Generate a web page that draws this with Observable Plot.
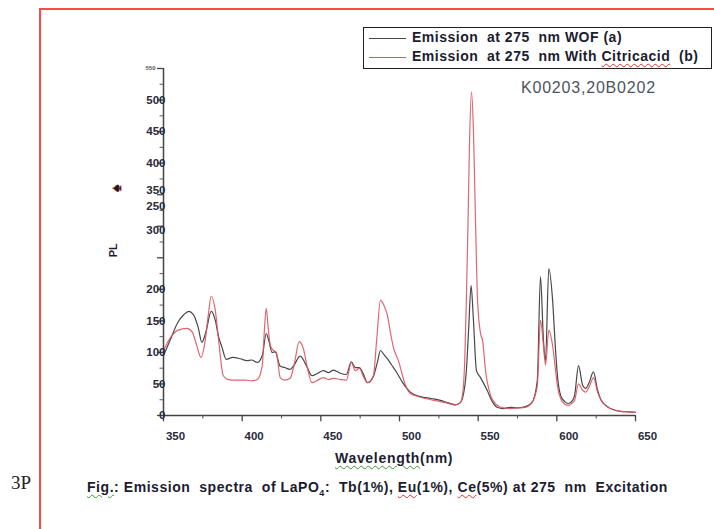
<!DOCTYPE html>
<html>
<head>
<meta charset="utf-8">
<script src="https://cdn.jsdelivr.net/npm/d3@7"></script>
<script src="https://cdn.jsdelivr.net/npm/@observablehq/plot@0.6"></script>
<style>
  html, body { margin: 0; padding: 0; background: #fff; }
  #wrap { position: relative; width: 714px; height: 529px; overflow: hidden; font-family: "Liberation Sans", Arial, sans-serif; }
  #chart { position: absolute; left: 0; top: 0; }
  .abs { position: absolute; white-space: pre; }
  .wavyG { text-decoration: underline wavy #3a9a3a; text-decoration-thickness: 1px; text-underline-offset: 2px; }
  .wavyR { text-decoration: underline wavy #e03030; text-decoration-thickness: 1px; text-underline-offset: 2px; }
</style>
</head>
<body>
<div id="wrap">
  <div id="chart"></div>
  <div class="abs" style="left:39px;top:8px;width:2px;height:521px;background:#ff4848;"></div>
  <div class="abs" style="left:39px;top:8px;width:675px;height:2px;background:#ff4848;"></div>
  <div id="legend" class="abs" style="left:363px;top:27px;width:347px;height:40px;border:1.5px solid #222;"></div>
  <div id="stamp" class="abs" style="left:521px;top:79px;font-size:16px;letter-spacing:0.8px;color:#4d5360;"></div>
  <div id="xtitle" class="abs" style="left:335px;top:450px;font-size:14px;letter-spacing:0.7px;font-weight:bold;color:#1c1c30;"></div>
  <div id="page" class="abs" style="left:11px;top:472px;font-family:'Liberation Serif',serif;font-size:19px;color:#222;">3P</div>
  <div id="caption" class="abs" style="left:87px;top:479px;font-size:14px;letter-spacing:0.55px;font-weight:bold;color:#1c1c30;"></div>
</div>
<script>
// ---- data ----
const wofWavelength = [350,354,359,363,366,369,372,374.4,377,380.3,383,385,387.2,389.9,394,398.8,403,406,409.6,412.8,415.3,417,419,421,424.2,427,430.5,433,436.9,440.8,444.4,448,451.6,455,458,462.4,466.2,469.4,471.9,474.5,477,479.6,483.4,486,487.9,490,492.3,495,498.5,502,506.9,513.3,520,526,531,535.5,538.5,540,542.5,544,545.5,547,548.9,551.5,555.7,559,562,566,570.5,575,580,583,585,587.6,589.6,591.5,592.8,594.9,597.3,599.2,600.5,602.4,605,607.4,610,611.3,613.8,616.4,618.3,620.5,623.3,625.9,628,631,637.4,643,650];
const wofPL = [95,118,147,160,165,160,140,116,133,165,150,125,108,89,92,90,87,88,84,95,130,118,100,101,78,76,73,80,94,79,63,67,71,68,72,67,65,85,76,76,66,52,62,85,103,97,90,80,67,52,37,30,27,24,20,17,20,27,71,140,206,151,71,60,40,22,13,11,13,12,14,18,24,56,220,119,87,233,183,103,60,32,22,19,24,32,79,48,43,52,69,40,25,16,8,6,5];

const citWavelength = [350,354,359,364.9,368.3,371,373.8,376.5,378.5,380.3,382.9,385,388,391.2,396,402,406,409.6,412.8,414,415.3,416.5,417.9,419.5,421.7,424.2,427,430.5,433,436.3,438.9,441.5,444.4,448,451.6,455,458,462.4,466.2,469.4,471.9,474.5,477,479.6,483.4,485.5,487.9,490,492.3,494,496.1,499.3,503.8,506.9,513.3,520,526,531,535.5,538.5,540,541.5,542.5,543.5,544.4,545.7,547,548.3,549.6,551.5,552.8,554.7,557.9,561.7,566,570.5,575,580,583,585,587.6,589.6,591.5,592.8,594.9,597.3,599.2,600.5,602.4,605,607.4,610,611.3,613.8,616.4,618.3,620.5,623.3,625.9,628,631,637.4,643,650];
const citPL = [103,122,135,138,132,112,92,119,160,189,167,120,63,57,56,56,55,57,79,130,170,140,111,104,100,60,56,59,80,117,106,75,52,56,60,57,59,57,56,84,71,75,62,52,63,120,183,175,159,135,108,87,48,35,29,25,22,19,17,20,32,90,183,300,421,513,452,310,183,130,119,71,32,17,12,11,12,13,17,24,48,151,111,80,135,111,71,45,27,18,16,20,24,50,40,37,45,60,37,25,16,8,6,5];

const xMajor = [350,400,450,500,550,600,650];
const xMinor = [375,425,475,525,575,625];
const yMajor = [0,50,100,150,200,250,300,350,400,450,500,550];
const yMinor = [25,75,125,175,225,275,325,375,425,475,525];
const yLabelText = ["0","50","100","150","200","300","250","350","400","450","500"];
const yLabelAt   = [0,50,100,150,200,294,332,357,400,450,500];
const yTopLabel = "550";
const yTitle = "PL";
const xTitle = "Wavelength(nm)";
const legendLabels = ["Emission  at 275  nm WOF (a)", "Emission  at 275  nm With Citricacid  (b)"];
const seriesColors = ["#474747", "#dc5560"];
const stampText = "K00203,20B0202";

// ---- chart ----
const wof = wofWavelength.map((w, i) => ({w, v: wofPL[i]}));
const cit = citWavelength.map((w, i) => ({w, v: citPL[i]}));

const chart = Plot.plot({
  width: 714,
  height: 529,
  marginLeft: 163,
  marginRight: 79,
  marginTop: 68,
  marginBottom: 114,
  style: {background: "transparent", fontFamily: "'Liberation Sans', Arial, sans-serif"},
  x: {domain: [350, 650], axis: null},
  y: {domain: [0, 550], axis: null},
  marks: [
    Plot.line(wof, {x: "w", y: "v", stroke: seriesColors[0], strokeWidth: 1.2, curve: "monotone-x"}),
    Plot.line(cit, {x: "w", y: "v", stroke: seriesColors[1], strokeWidth: 1.2, strokeOpacity: 0.9, curve: "monotone-x"}),
    // axes lines
    Plot.ruleY([0], {x1: 350, x2: 650, stroke: "#444", strokeWidth: 1.5}),
    Plot.ruleX([350], {y1: 0, y2: 550, stroke: "#444", strokeWidth: 1.5}),
    // x ticks
    Plot.ruleX(xMajor, {x: d => d, y1: 0, y2: -10, stroke: "#444", strokeWidth: 1.3}),
    Plot.ruleX(xMinor, {x: d => d, y1: 0, y2: -5.5, stroke: "#555", strokeWidth: 1.1}),
    Plot.text(xMajor, {x: d => d, y: 0, text: d => String(d), dy: 21, dx: 12, fontSize: 11.5, fontWeight: "bold", fill: "#2a2a3a"}),
    // y ticks
    Plot.ruleY(yMajor, {y: d => d, x1: 350, x2: 346.2, stroke: "#444", strokeWidth: 1.3}),
    Plot.ruleY(yMinor, {y: d => d, x1: 350, x2: 347.8, stroke: "#666", strokeWidth: 1.1}),
    Plot.text(yLabelAt, {x: 350, y: d => d, text: (d, i) => yLabelText[i], textAnchor: "end", dx: 2, fontSize: 11.5, fontWeight: "bold", fill: "#2a2a3a"}),
    Plot.text([550], {x: 350, y: d => d, text: () => yTopLabel, textAnchor: "end", dx: -8, fontSize: 6, fontWeight: "bold", fill: "#556"}),
    // y title and stray glyph
    Plot.text([262], {x: 350, y: d => d, text: () => yTitle, rotate: -90, dx: -50, fontSize: 11, fontWeight: "bold", fill: "#1c1c30"}),
    Plot.text([360], {x: 350, y: d => d, text: () => "♠", rotate: -90, dx: -47, fontSize: 14, fontWeight: "bold", fill: "#1a1a1a", stroke: "#e03030", strokeWidth: 0.7})
  ]
});
document.getElementById("chart").appendChild(chart);

// ---- HTML overlays ----
const legend = document.getElementById("legend");
legendLabels.forEach((t, i) => {
  const row = document.createElement("div");
  row.style.cssText = `position:absolute;left:0;top:${i === 0 ? 1 : 20}px;height:19px;width:345px;`;
  const sw = document.createElement("div");
  sw.style.cssText = `position:absolute;left:5px;top:9px;width:37px;height:0;border-top:1.6px solid ${seriesColors[i]};`;
  const tx = document.createElement("div");
  tx.style.cssText = "position:absolute;left:48px;top:0px;font-size:14px;letter-spacing:0.5px;font-weight:bold;color:#1c1c30;white-space:pre;";
  if (i === 1) {
    tx.innerHTML = t.replace("Citricacid", '<span class="wavyR">Citricacid</span>');
  } else tx.textContent = t;
  row.appendChild(sw); row.appendChild(tx);
  legend.appendChild(row);
});
document.getElementById("stamp").textContent = stampText;
document.getElementById("xtitle").innerHTML = '<span class="wavyG">Wavelength</span>(nm)';
document.getElementById("caption").innerHTML =
  '<span class="wavyG">Fig.</span>: Emission  spectra  of LaPO<sub style="font-size:9px">4</sub>:  Tb(1%), <span class="wavyR">Eu</span>(1%), <span class="wavyR">Ce</span>(5%) at 275  nm  Excitation';
</script>
</body>
</html>
